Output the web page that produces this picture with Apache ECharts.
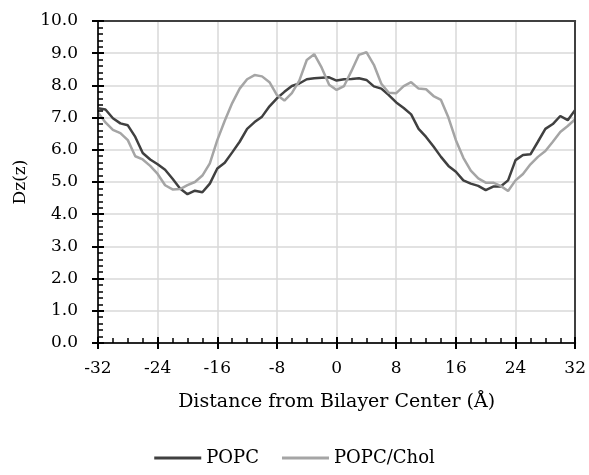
<!DOCTYPE html>
<html>
<head>
<meta charset="utf-8">
<script src="https://cdn.jsdelivr.net/npm/echarts@6/dist/echarts.min.js"></script>
<style>
  html, body { margin: 0; padding: 0; background: #fff; }
  #chart { width: 589px; height: 475px; }
</style>
</head>
<body>
<div id="chart"></div>
<script>
// distance from bilayer center (Å), one sample per Å
const distance = [];
for (let d = -32; d <= 32; d++) distance.push(d);

const popc = [
  7.29, 7.25, 6.98, 6.82, 6.76, 6.40, 5.90, 5.70, 5.55, 5.38, 5.10, 4.80, 4.62, 4.73, 4.68, 4.95,
  5.42, 5.60, 5.92, 6.25, 6.65, 6.86, 7.03, 7.35, 7.60, 7.80, 7.98, 8.06, 8.19, 8.22, 8.24, 8.25,
  8.15,
  8.19, 8.20, 8.22, 8.17, 7.97, 7.90, 7.70, 7.47, 7.30, 7.10, 6.65, 6.40, 6.10, 5.78, 5.50, 5.32,
  5.05, 4.95, 4.88, 4.75, 4.86, 4.86, 5.05, 5.68, 5.84, 5.86, 6.25, 6.65, 6.80, 7.05, 6.92, 7.24
];

const popcChol = [
  7.16, 6.85, 6.62, 6.52, 6.30, 5.80, 5.70, 5.50, 5.25, 4.90, 4.77, 4.78, 4.90, 5.00, 5.20, 5.58,
  6.30, 6.90, 7.45, 7.90, 8.19, 8.32, 8.28, 8.10, 7.70, 7.53, 7.76, 8.15, 8.79, 8.97, 8.55, 8.02,
  7.86,
  7.98, 8.45, 8.95, 9.03, 8.64, 8.05, 7.77, 7.76, 7.98, 8.10, 7.90, 7.88, 7.67, 7.55, 7.00, 6.30,
  5.75, 5.35, 5.11, 4.98, 4.98, 4.88, 4.72, 5.05, 5.25, 5.55, 5.78, 5.96, 6.25, 6.55, 6.74, 6.95
];

const seriesNames = ['POPC', 'POPC/Chol'];
const seriesColors = ['#404040', '#a5a5a5'];

const font = 'DejaVu Serif';
const axisColor = '#262626';
const tickColor = '#000';
const textColor = '#000';

const toPairs = vals => distance.map((d, i) => [d, vals[i]]);

const chart = echarts.init(document.getElementById('chart'));

const xRange = { type: 'value', min: -32, max: 32, interval: 8 };
const yRange = { type: 'value', min: 0, max: 10, interval: 1 };

// gridlines live on their own axis, drawn under the tick/frame axes
const gridLines = (range, position) => Object.assign({}, range, {
  position,
  z: 0,
  axisLine: { show: false, onZero: false },
  axisTick: { show: false },
  axisLabel: { show: false },
  splitLine: { show: true, lineStyle: { color: '#d9d9d9', width: 1.5 } }
});
// extra axis that only draws outward major ticks (so they cross the axis line)
const outerTicks = (range, position) => Object.assign({}, range, {
  position,
  z: 3,
  axisLine: { show: false, onZero: false },
  axisTick: { show: true, inside: false, length: 6, lineStyle: { color: tickColor, width: 2 } },
  axisLabel: { show: false },
  splitLine: { show: false }
});
// plain frame line on top / right
const frame = (range, position) => Object.assign({}, range, {
  position,
  z: 3,
  axisLine: { show: true, onZero: false, lineStyle: { color: '#404040', width: 2 } },
  axisTick: { show: false },
  axisLabel: { show: false },
  splitLine: { show: false }
});

chart.setOption({
  animation: false,
  textStyle: { fontFamily: font },
  grid: { left: 98, right: 13, top: 21, bottom: 132 },
  legend: {
    bottom: 3,
    left: 'center',
    icon: 'rect',
    itemWidth: 47,
    itemHeight: 3,
    itemGap: 23,
    textStyle: { fontFamily: font, fontSize: 18, color: textColor },
    data: seriesNames
  },
  xAxis: [
    Object.assign({}, xRange, {
      position: 'bottom',
      z: 3,
      name: 'Distance from Bilayer Center (Å)',
      nameLocation: 'middle',
      nameGap: 50,
      nameTextStyle: { fontFamily: font, fontSize: 19, color: textColor },
      axisLine: { show: true, onZero: false, lineStyle: { color: axisColor, width: 2 } },
      axisTick: { show: true, inside: true, length: 6, lineStyle: { color: tickColor, width: 2 } },
      minorTick: { show: true, splitNumber: 4, length: 5, lineStyle: { color: tickColor, width: 1.5 } },
      axisLabel: { fontFamily: font, fontSize: 17, color: textColor, margin: 17 },
      splitLine: { show: false }
    }),
    outerTicks(xRange, 'bottom'),
    frame(xRange, 'top'),
    gridLines(xRange, 'bottom')
  ],
  yAxis: [
    Object.assign({}, yRange, {
      position: 'left',
      z: 3,
      name: 'Dz(z)',
      nameLocation: 'middle',
      nameGap: 61,
      nameTextStyle: { fontFamily: font, fontSize: 17, color: textColor },
      axisLine: { show: true, onZero: false, lineStyle: { color: axisColor, width: 2 } },
      axisTick: { show: true, inside: true, length: 6, lineStyle: { color: tickColor, width: 2 } },
      minorTick: { show: true, splitNumber: 5, length: 5, lineStyle: { color: tickColor, width: 1.5 } },
      axisLabel: {
        fontFamily: font, fontSize: 17, color: textColor, margin: 20,
        formatter: v => v.toFixed(1)
      },
      splitLine: { show: false }
    }),
    outerTicks(yRange, 'left'),
    frame(yRange, 'right'),
    gridLines(yRange, 'left')
  ],
  series: [popc, popcChol].map((vals, i) => ({
    name: seriesNames[i],
    type: 'line',
    xAxisIndex: 0,
    yAxisIndex: 0,
    z: 2,
    data: toPairs(vals),
    showSymbol: false,
    symbol: 'none',
    lineStyle: { color: seriesColors[i], width: 2.5 },
    itemStyle: { color: seriesColors[i] }
  }))
});
</script>
</body>
</html>
